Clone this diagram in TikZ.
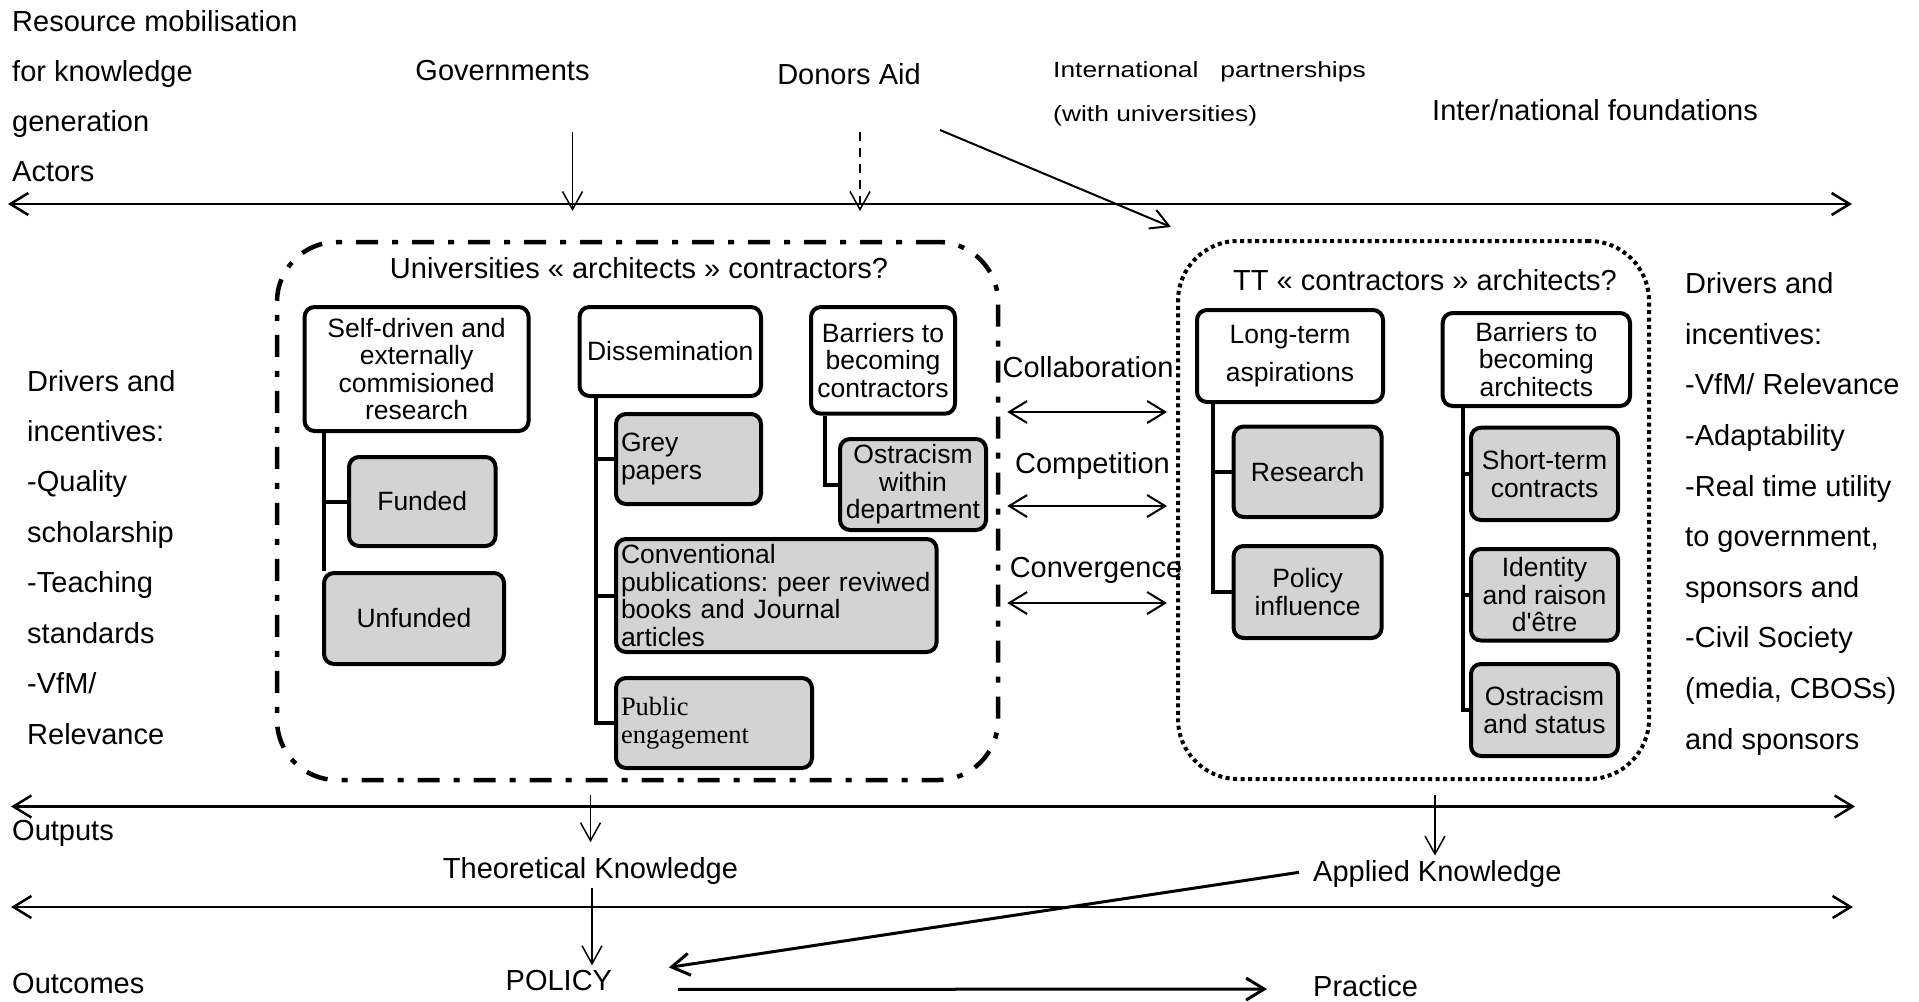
\documentclass[tikz,border=0pt]{standalone}
\usepackage{fontspec}
\setmainfont{Liberation Sans}
\newfontfamily\serifx{Liberation Serif}
\usetikzlibrary{arrows.meta,calc}
\pgfdeclarelayer{bg}
\pgfsetlayers{bg,main}
\definecolor{boxgray}{RGB}{211,211,211}
\newcommand\ftmain{\fontsize{29}{34}\selectfont}
\newcommand\ftbox{\fontsize{26.5}{27.5}\selectfont}
\frenchspacing
\begin{document}
\begin{tikzpicture}[x=1pt,y=-1pt,
  lbl/.style={inner sep=0pt, font=\ftmain},
  wbox/.style={draw, line width=4pt, rounded corners=10pt, fill=white, align=center, font=\ftbox, inner sep=3pt},
  gbox/.style={wbox, fill=boxgray},
  lgbox/.style={gbox, align=left, inner xsep=5pt},
  conn/.style={line width=4pt},
  axis/.style={line width=2.5pt, {Straight Barb[length=18pt,width=22pt]}-{Straight Barb[length=18pt,width=22pt]}},
  dbl/.style={line width=2pt, {Straight Barb[length=18pt,width=22pt]}-{Straight Barb[length=18pt,width=22pt]}},
  arr/.style={line width=1.5pt, -{Straight Barb[length=18pt,width=20pt]}},
  tarr/.style={line width=3pt, -{Straight Barb[length=18pt,width=22pt]}},
]
\useasboundingbox (0,0) rectangle (1919,1001);
\begin{pgfonlayer}{bg}
\fill[white] (0,0) rectangle (1919,1001);
\end{pgfonlayer}

% ---- top labels
\node[lbl, anchor=west, align=left, font=\fontsize{29}{50}\selectfont] (resmob) at (12,96)
  {\strut Resource mobilisation\\\strut for knowledge\\\strut generation\\\strut Actors};
\node[lbl, anchor=base] (gov) at (502.5,80.7) {Governments};
\node[lbl, anchor=base] (don) at (849,84) {Donors Aid};
\node[lbl, anchor=west, align=left, font=\fontsize{22}{43.5}\selectfont] (intl) at (1053,90.75)
  {\scalebox{1.2}[1]{\strut International\ \ \ partnerships}\\\scalebox{1.2}[1]{\strut (with universities)}};
\node[lbl, anchor=base west] (fdn) at (1432,120.4) {Inter/national foundations};

% ---- actors axis and arrows
\coordinate (a1l) at (8,204);
\coordinate (a1r) at (1852,204);
\draw[axis] (a1l) -- (a1r);
\coordinate (g1) at (572.5,132);
\coordinate (g2) at (572.5,211);
\draw[arr] (g1) -- (g2);
\coordinate (d1) at (860,132);
\coordinate (d2) at (860,211);
\draw[arr, dash pattern=on 9pt off 7pt] (d1) -- (d2);
\coordinate (i1) at (940,130);
\coordinate (i2) at (1171,227);
\draw[arr, line width=2pt] (i1) -- (i2);

% ---- container boxes
\node[draw, line width=4.5pt, rounded corners=60pt, dash pattern=on 22pt off 14pt on 6pt off 14pt,
      minimum width=721pt, minimum height=538pt, inner sep=0pt] (uni) at (637.5,511) {};
\node[draw, line width=4pt, rounded corners=60pt, dash pattern=on 4pt off 3.5pt,
      minimum width=471pt, minimum height=538pt, inner sep=0pt] (tt) at (1413.5,510) {};
\node[lbl, anchor=base] (unit) at (639,278) {Universities « architects » contractors?};
\node[lbl, anchor=base] (ttt) at (1425,290.4) {TT « contractors » architects?};

% ---- universities boxes
\node[wbox, minimum width=224pt, minimum height=124pt] (sd) at (416.6,369)
  {Self-driven and\\externally\\commisioned\\research};
\node[gbox, minimum width=146.5pt, minimum height=89pt] (fund) at (422.25,501.5) {Funded};
\node[gbox, minimum width=180pt, minimum height=91pt] (unf) at (414,618.5) {Unfunded};
\node[wbox, minimum width=181.5pt, minimum height=89pt] (dis) at (670.25,351.5) {Dissemination};
\node[lgbox, text width=135pt, minimum height=90pt] (grey) at (688.5,459) {\mbox{Grey}\\\mbox{papers}};
\node[lgbox, text width=310.6pt, minimum height=113pt] (conv) at (776.3,595.5)
  {\mbox{Conventional}\\\mbox{publications: peer reviwed}\\\mbox{books and Journal}\\\mbox{articles}};
\node[lgbox, text width=186pt, minimum height=90pt, font=\serifx\fontsize{26.5}{27.5}\selectfont] (pub) at (714,723)
  {\mbox{Public}\\\mbox{engagement}};
\node[wbox, minimum width=144pt, minimum height=106.7pt] (bc) at (883,360.35)
  {Barriers to\\becoming\\contractors};
\node[gbox, minimum width=146pt, minimum height=91pt] (ostw) at (913,484.5)
  {Ostracism\\within\\department};

% ---- TT boxes
\node[wbox, minimum width=186pt, minimum height=92pt] (lt) at (1290,356) {Long-term\\[10pt]aspirations};
\node[gbox, minimum width=148pt, minimum height=90.4pt] (rsch) at (1307.6,471.8) {Research};
\node[gbox, minimum width=148pt, minimum height=92pt] (pol) at (1307.6,592) {Policy\\influence};
\node[wbox, minimum width=187.3pt, minimum height=93pt] (ba) at (1536.35,359.5)
  {Barriers to\\becoming\\architects};
\node[gbox, minimum width=147pt, minimum height=92.3pt] (st) at (1544.5,473.85) {Short-term\\contracts};
\node[gbox, minimum width=147pt, minimum height=91.5pt] (idt) at (1544.5,594.75)
  {Identity\\and raison\\d\textquotesingle être};
\node[gbox, minimum width=147pt, minimum height=92pt] (ost) at (1544.5,710) {Ostracism\\and status};

% ---- tree connectors
\coordinate (x1) at (324,0);
\coordinate (x2) at (595.5,0);
\coordinate (x3) at (824.7,0);
\coordinate (x4) at (1213,0);
\coordinate (x5) at (1462.5,0);
\begin{pgfonlayer}{bg}
\draw[conn] (sd.south -| x1) -- (unf.north -| x1);
\draw[conn] (fund.west -| x1) -- (fund.west);
\draw[conn] (dis.south -| x2) -- (pub.west -| x2) -- (pub.west);
\draw[conn] (grey.west -| x2) -- (grey.west);
\draw[conn] (conv.west -| x2) -- (conv.west);
\draw[conn] (bc.south -| x3) -- (ostw.west -| x3) -- (ostw.west);
\draw[conn] (lt.south -| x4) -- (pol.west -| x4) -- (pol.west);
\draw[conn] (rsch.west -| x4) -- (rsch.west);
\draw[conn] (ba.south -| x5) -- (ost.west -| x5) -- (ost.west);
\draw[conn] (st.west -| x5) -- (st.west);
\draw[conn] (idt.west -| x5) -- (idt.west);
\end{pgfonlayer}

% ---- relations between containers
\node[lbl, anchor=base] (collab) at (1088,377.4) {Collaboration};
\node[lbl, anchor=base] (compet) at (1092.5,473) {Competition};
\node[lbl, anchor=base] (conver) at (1096,577.4) {Convergence};
\coordinate (y1) at (0,412);
\coordinate (y2) at (0,506);
\coordinate (y3) at (0,603);
\draw[dbl, shorten <=7pt, shorten >=9pt] (uni.east |- y1) -- (tt.west |- y1);
\draw[dbl, shorten <=7pt, shorten >=9pt] (uni.east |- y2) -- (tt.west |- y2);
\draw[dbl, shorten <=7pt, shorten >=9pt] (uni.east |- y3) -- (tt.west |- y3);

% ---- side labels
\node[lbl, anchor=west, align=left, font=\fontsize{29}{50.43}\selectfont] (drvl) at (27,557.5)
  {\strut Drivers and\\\strut incentives:\\\strut -Quality\\\strut scholarship\\\strut -Teaching\\\strut standards\\\strut -VfM/\\\strut Relevance};
\node[lbl, anchor=west, align=left, font=\fontsize{29}{50.6}\selectfont] (drvr) at (1685,511.3)
  {\strut Drivers and\\\strut incentives:\\\strut -VfM/ Relevance\\\strut -Adaptability\\\strut -Real time utility\\\strut to government,\\\strut sponsors and\\\strut -Civil Society\\\strut (media, CBOSs)\\\strut and sponsors};

% ---- outputs / outcomes
\coordinate (a2l) at (11,806.5);
\coordinate (a2r) at (1855,806.5);
\draw[axis] (a2l) -- (a2r);
\coordinate (a3l) at (11,907);
\coordinate (a3r) at (1853,907);
\draw[axis] (a3l) -- (a3r);
\node[lbl, anchor=base west] (outp) at (12,840.4) {Outputs};
\node[lbl, anchor=base] (th) at (590.5,878.4) {Theoretical Knowledge};
\node[lbl, anchor=base west] (ap) at (1313,881.8) {Applied Knowledge};
\node[lbl, anchor=base west] (outc) at (12,993.2) {Outcomes};
\node[lbl, anchor=base west] (plc) at (505.5,990.7) {POLICY};
\node[lbl, anchor=base west] (prac) at (1313,996.9) {Practice};

\coordinate (xap) at (1435,0);
\draw[arr, shorten <=13pt, shorten >=15pt] (uni.south -| th.north) -- (th.north);
\draw[arr, shorten <=14pt, shorten >=5pt] (tt.south -| xap) -- (ap.north -| xap);
\draw[arr, shorten <=3pt, shorten >=5pt] ([xshift=1.5pt]th.south) -- ([xshift=1.5pt]th.south |- plc.north);
\draw[tarr] ($(ap.west)+(-14,-2)$) -- ($(plc.east)+(56.5,-13.3)$);
\draw[tarr] ($(plc.east)+(65.5,8.7)$) -- ($(prac.west)+(-46,2.5)$);
\end{tikzpicture}
\end{document}
